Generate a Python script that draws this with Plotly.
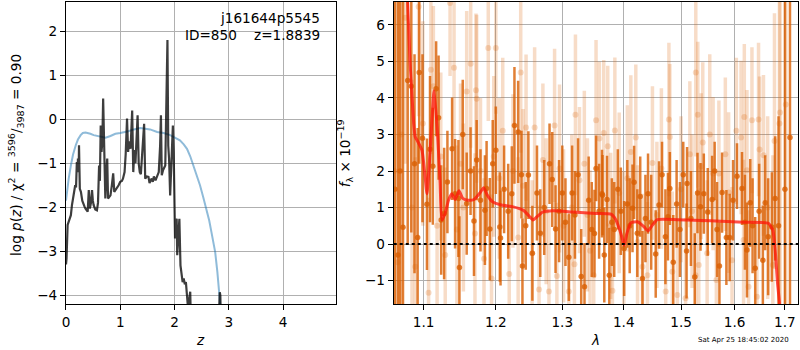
import plotly.graph_objects as go
import math

# ---------------- data: left panel (redshift fit) ----------------
z_chi = [0.000, 0.010, 0.030, 0.045, 0.070, 0.090, 0.110, 0.130, 0.150, 0.170, 0.185, 0.200,
         0.215, 0.220, 0.235, 0.240, 0.255, 0.275, 0.300, 0.320, 0.340, 0.360, 0.380, 0.400,
         0.420, 0.430, 0.440, 0.460, 0.480, 0.495, 0.510, 0.540, 0.570, 0.590, 0.610, 0.625,
         0.640, 0.655, 0.670, 0.685, 0.700, 0.710, 0.725, 0.745, 0.760, 0.775, 0.800, 0.820,
         0.845, 0.870, 0.890, 0.915, 0.940, 0.970, 1.000, 1.030, 1.050, 1.080, 1.100, 1.125,
         1.145, 1.165, 1.190, 1.205, 1.220, 1.240, 1.260, 1.280, 1.300, 1.320, 1.340, 1.360,
         1.380, 1.400, 1.440, 1.460, 1.490, 1.520, 1.540, 1.560, 1.580, 1.600, 1.620, 1.650,
         1.680, 1.710, 1.735, 1.750, 1.765, 1.790, 1.830, 1.850, 1.870, 1.885, 1.900, 1.920,
         1.945, 1.970, 1.985, 2.000, 2.010, 2.025, 2.040, 2.050, 2.070, 2.090, 2.110, 2.130,
         2.150, 2.170, 2.190, 2.210, 2.230, 2.250, 2.270, 2.290, 2.300, 2.400, 2.600, 2.800,
         2.835, 2.845, 2.870, 3.000]
logp_chi = [-3.30, -3.17, -2.40, -2.33, -2.25, -2.18, -1.95, -1.80, -1.70, -1.50, -1.55, -0.97,
            -1.20, -0.89, -1.10, -0.59, -1.58, -1.65, -1.85, -1.95, -1.98, -2.03, -2.06, -2.10,
            -1.61, -1.95, -2.03, -1.90, -1.61, -1.85, -1.95, -2.05, -2.07, -1.90, -1.05, -1.40,
            -0.14, -0.74, -0.50, 0.47, -0.60, -1.05, -1.80, -1.20, -0.89, -1.80, -1.75, -1.73,
            -1.50, -1.23, -1.65, -1.60, -1.58, -1.50, -1.42, -1.40, -1.35, -1.20, -0.80, 0.02,
            -0.74, -0.50, -0.67, -0.30, 0.20, -1.20, -0.70, -1.00, -0.50, 0.09, -1.00, -1.20,
            -1.25, -0.90, -0.10, -1.35, -1.30, -1.31, -1.45, -1.39, -1.35, -1.42, -1.30, -1.39,
            -1.28, -1.20, -0.60, 0.09, -1.27, -1.15, -1.05, 0.30, 1.80, -0.60, -0.89, -1.73,
            -0.90, -0.14, -0.74, -1.90, -2.71, -2.30, -2.26, -3.09, -2.50, -2.26, -3.32, -3.50,
            -3.70, -3.62, -3.75, -3.70, -4.00, -4.30, -4.10, -3.92, -4.50, -5.50, -6.00, -5.00,
            -3.93, -4.00, -5.50, -8.00]

z_prior = [0.00, 0.01, 0.05, 0.09, 0.13, 0.18, 0.22, 0.27, 0.31, 0.36, 0.40, 0.45, 0.51, 0.57,
           0.65, 0.73, 0.82, 0.91, 1.00, 1.06, 1.15, 1.25, 1.37, 1.43, 1.55, 1.68, 1.80, 1.92,
           2.02, 2.10, 2.17, 2.23, 2.29, 2.35, 2.41, 2.47, 2.53, 2.59, 2.64, 2.68, 2.72, 2.75,
           2.79, 2.83, 2.85, 2.87]
logp_prior = [-1.85, -1.73, -1.35, -1.05, -0.80, -0.59, -0.46, -0.36, -0.31, -0.30, -0.31, -0.33,
              -0.36, -0.38, -0.41, -0.42, -0.38, -0.33, -0.31, -0.30, -0.27, -0.23, -0.20, -0.21,
              -0.23, -0.29, -0.31, -0.36, -0.42, -0.48, -0.57, -0.67, -0.84, -1.05, -1.27, -1.50,
              -1.77, -2.03, -2.30, -2.56, -2.85, -3.02, -3.47, -3.92, -4.23, -4.60]

z_ticks = [0, 1, 2, 3, 4]
logp_ticks = [-4, -3, -2, -1, 0, 1, 2]

# ---------------- data: right panel (spectrum) ----------------
wave_a = [1.0625, 1.0665, 1.0693, 1.0730, 1.0791, 1.0838, 1.0880, 1.0921, 1.0942, 1.0985,
          1.1044, 1.1085, 1.1123, 1.1167, 1.1200, 1.1235, 1.1275, 1.1320, 1.1384, 1.1425,
          1.1471, 1.1485, 1.1531, 1.1586, 1.1640, 1.1688, 1.1726, 1.1780, 1.1843, 1.1867,
          1.1914, 1.1955, 1.2000, 1.2058, 1.2068, 1.2120, 1.2180, 1.2233, 1.2272, 1.2327,
          1.2376, 1.2391, 1.2440, 1.2480, 1.2540, 1.2610, 1.2660, 1.2720, 1.2802, 1.2844,
          1.2895, 1.2950, 1.3000, 1.3050, 1.3103, 1.3155, 1.3200, 1.3250, 1.3300, 1.3353,
          1.3420, 1.3470, 1.3514, 1.3540, 1.3590, 1.3637, 1.3646, 1.3675, 1.3720, 1.3758,
          1.3800, 1.3840, 1.3900, 1.3950, 1.4006, 1.4060, 1.4100, 1.4148, 1.4175, 1.4230,
          1.4280, 1.4319, 1.4370, 1.4415, 1.4470, 1.4549, 1.4607, 1.4660, 1.4720, 1.4765,
          1.4799, 1.4860, 1.4920, 1.4980, 1.5040, 1.5100, 1.5109, 1.5180, 1.5250, 1.5300,
          1.5356, 1.5417, 1.5490, 1.5572, 1.5620, 1.5665, 1.5710, 1.5760, 1.5842, 1.5905,
          1.5970, 1.6046, 1.6143, 1.6200, 1.6240, 1.6304, 1.6350, 1.6402, 1.6480, 1.6554,
          1.6600, 1.6660, 1.6734, 1.6801, 1.6870, 1.7000, 1.7104]
flux_a = [1.50, -0.30, 2.00, 0.46, 4.48, 4.32, 2.20, 0.18, 4.70, 2.90,
          1.09, 2.60, 2.13, 4.25, 3.46, 0.66, 0.84, 1.70, 2.61, 1.38,
          1.25, -0.64, 3.00, 1.11, 2.00, 0.63, 2.30, 1.20, 0.93, 1.52,
          0.41, 2.20, 2.57, 0.47, 0.17, 1.50, 0.90, 1.38, 3.25, 3.07,
          1.90, -0.60, 0.50, 1.89, -0.25, 1.40, 0.30, 1.00, 2.20, 1.77,
          0.41, 0.90, 1.40, 0.60, -0.36, 1.40, 0.80, 1.90, -0.89, -1.17,
          1.20, 0.40, 0.29, 2.07, 0.90, 1.38, 1.34, -0.30, 1.22, -0.85,
          0.60, 0.40, 1.50, 0.90, -0.12, 1.10, 0.50, 0.98, 1.69, 0.30,
          1.30, -0.94, 0.70, 1.38, 0.60, -0.27, 1.07, 1.90, 0.20, 0.75,
          1.52, -0.50, 1.10, 0.40, 1.90, -0.19, 1.66, 0.70, -0.90, 1.40,
          1.02, 1.38, 0.88, 1.22, 2.00, 0.40, -0.60, 1.41, 0.18, 0.18,
          1.20, 1.86, 1.52, 0.60, -0.16, 1.13, 0.50, -0.66, 0.90, -0.44,
          1.13, 0.20, 0.47, 1.25, 0.50, 1.50, 2.92]
err_a = [9.0, 8.0, 8.0, 7.0, 4.5, 4.0, 3.0, 3.0, 2.5, 2.3,
         1.8, 2.0, 1.6, 1.3, 1.7, 1.5, 1.8, 1.4, 1.4, 1.5,
         1.6, 1.4, 1.5, 1.4, 1.2, 1.5, 1.1, 1.4, 1.5, 1.3,
         1.4, 1.2, 1.2, 1.5, 1.3, 1.2, 1.3, 1.3, 1.6, 1.4,
         1.2, 1.3, 1.2, 1.2, 1.3, 1.3, 1.2, 1.3, 1.1, 1.3,
         1.2, 1.4, 1.3, 1.2, 1.2, 1.3, 1.2, 1.0, 1.3, 1.2,
         1.2, 1.3, 1.2, 0.9, 1.3, 1.2, 1.1, 1.3, 1.2, 1.3,
         1.2, 1.3, 1.1, 1.2, 1.3, 1.2, 1.3, 1.2, 1.0, 1.2,
         1.1, 1.3, 1.2, 1.1, 1.3, 1.2, 1.2, 0.9, 1.3, 1.2,
         1.0, 1.3, 1.2, 1.3, 0.9, 1.3, 1.0, 1.3, 1.2, 1.1,
         1.2, 1.1, 1.2, 1.2, 0.8, 1.3, 1.2, 1.1, 1.3, 1.2,
         1.1, 0.9, 1.0, 1.3, 1.3, 1.2, 1.3, 1.4, 1.3, 1.5,
         1.3, 1.6, 1.5, 1.7, 3.0, 8.0, 10.0]

wave_b = [1.0620, 1.0660, 1.0710, 1.0760, 1.0847, 1.0890, 1.0934, 1.0990, 1.1066, 1.1097,
          1.1130, 1.1180, 1.1230, 1.1290, 1.1356, 1.1411, 1.1450, 1.1500, 1.1540, 1.1586,
          1.1642, 1.1702, 1.1716, 1.1726, 1.1780, 1.1830, 1.1891, 1.1938, 1.1970, 1.2000,
          1.2050, 1.2100, 1.2195, 1.2250, 1.2327, 1.2365, 1.2400, 1.2445, 1.2536, 1.2574,
          1.2641, 1.2700, 1.2750, 1.2793, 1.2880, 1.2916, 1.2957, 1.3020, 1.3103, 1.3150,
          1.3192, 1.3208, 1.3272, 1.3350, 1.3400, 1.3442, 1.3502, 1.3540, 1.3594, 1.3666,
          1.3732, 1.3780, 1.3810, 1.3850, 1.3923, 1.4000, 1.4060, 1.4119, 1.4204, 1.4234,
          1.4319, 1.4405, 1.4492, 1.4570, 1.4649, 1.4725, 1.4782, 1.4799, 1.4843, 1.4933,
          1.5000, 1.5082, 1.5160, 1.5200, 1.5264, 1.5269, 1.5306, 1.5324, 1.5368, 1.5398,
          1.5479, 1.5528, 1.5591, 1.5652, 1.5700, 1.5822, 1.5885, 1.5950, 1.6033, 1.6124,
          1.6174, 1.6188, 1.6240, 1.6271, 1.6338, 1.6436, 1.6468, 1.6488, 1.6566, 1.6650,
          1.6754, 1.6787, 1.6888, 1.6899, 1.7018]
flux_b = [2.00, -0.50, 3.00, 6.20, 1.00, -0.62, 6.50, 3.30, -1.33, 4.77,
          4.32, 0.50, 2.40, -0.30, 6.60, 4.83, 0.40, 2.20, 1.00, 4.18,
          4.94, 0.29, 4.21, 3.98, 2.00, -0.40, 5.37, -0.94, 2.40, 5.37,
          1.80, 3.10, -0.82, 2.00, 0.18, 4.70, 1.60, 3.19, -0.25, 3.19,
          -1.24, 2.30, 0.90, -1.30, 3.25, -0.87, 2.07, 0.50, -1.30, 1.00,
          -0.55, 3.54, 1.75, 2.20, 0.80, -0.18, -0.85, 3.39, 2.89, 3.04,
          2.68, 0.50, -1.28, 3.11, 1.40, 0.00, 1.80, 2.52, 2.92, 0.06,
          -0.62, -0.85, 2.22, 0.80, 2.07, -1.30, 3.41, 2.93, -0.76, -1.39,
          1.50, -1.48, 2.46, 0.90, -0.85, 4.70, 3.54, -0.57, 2.13, 2.78,
          -0.25, 3.00, 1.93, -0.98, 1.93, 2.46, 1.41, -0.44, 3.10, 2.92,
          0.11, 3.48, 2.02, -1.17, 3.39, -1.44, 3.41, 2.59, 2.43, 1.00,
          -0.57, 2.82, 3.30, 3.60, 3.82]
err_b = [9.0, 8.0, 7.0, 4.0, 3.5, 3.0, 3.0, 2.8, 2.6, 2.3,
         2.2, 2.5, 2.3, 2.4, 2.0, 2.2, 2.3, 2.2, 2.3, 2.2,
         2.3, 2.2, 2.1, 2.3, 2.0, 2.2, 2.0, 2.3, 2.2, 1.8,
         2.2, 2.0, 2.2, 2.1, 2.2, 2.2, 2.1, 2.0, 2.0, 2.2,
         2.3, 2.1, 2.0, 2.2, 2.1, 2.0, 2.3, 2.1, 2.1, 2.0,
         2.0, 2.2, 2.0, 2.0, 2.1, 2.2, 2.0, 2.2, 2.1, 2.0,
         2.2, 2.0, 2.1, 2.0, 2.2, 2.0, 2.0, 2.1, 2.0, 2.1,
         2.0, 2.0, 2.1, 2.0, 2.2, 2.0, 2.1, 2.0, 2.2, 2.1,
         2.0, 2.2, 2.0, 2.1, 2.2, 2.3, 2.0, 2.1, 2.0, 2.2,
         2.0, 2.2, 2.1, 2.2, 2.0, 2.1, 2.2, 2.0, 2.0, 2.1,
         2.2, 2.0, 2.2, 2.1, 2.0, 2.0, 2.1, 2.0, 2.2, 2.5,
         3.0, 3.5, 5.0, 6.0, 8.0]

wave_model = [1.0740, 1.0791, 1.0821, 1.0869, 1.0890, 1.0925, 1.0978, 1.1017, 1.1044, 1.1087,
              1.1140, 1.1186, 1.1221, 1.1244, 1.1288, 1.1335, 1.1379, 1.1425, 1.1479, 1.1531,
              1.1610, 1.1688, 1.1772, 1.1826, 1.1877, 1.1953, 1.2082, 1.2253, 1.2401, 1.2490,
              1.2550, 1.2610, 1.2702, 1.2855, 1.3166, 1.3540, 1.3786, 1.3868, 1.3951, 1.4006,
              1.4052, 1.4119, 1.4234, 1.4347, 1.4415, 1.4492, 1.4578, 1.4933, 1.5540, 1.6174,
              1.6664, 1.6754, 1.6801, 1.6849, 1.6891, 1.6950]
flux_model = [9.00, 6.60, 5.00, 3.30, 2.93, 2.80, 2.57, 1.90, 1.38, 2.57,
              4.20, 3.02, 1.66, 0.66, 0.84, 1.20, 1.38, 1.22, 1.46, 1.25,
              1.20, 1.22, 1.40, 1.54, 1.34, 1.16, 1.07, 1.02, 0.93, 0.77,
              0.66, 0.75, 0.88, 0.91, 0.88, 0.84, 0.82, 0.66, 0.29, -0.03,
              0.29, 0.58, 0.61, 0.47, 0.36, 0.52, 0.67, 0.67, 0.64, 0.60,
              0.57, 0.38, -0.16, -1.07, -1.64, -3.00]

wave_ticks = [1.1, 1.2, 1.3, 1.4, 1.5, 1.6, 1.7]
flux_ticks = [-1, 0, 1, 2, 3, 4, 5, 6]

# ---------------- figure ----------------
W, H = 800, 350
FONT = "DejaVu Sans"
FS = 13.6

def px_x(p):
    return p / W

def px_y(p):
    return 1 - p / H

ydom = [px_y(304.3), px_y(1.7)]

fig = go.Figure()

fig.add_trace(go.Scatter(x=z_prior, y=logp_prior, mode="lines",
                         line=dict(color="rgba(31,119,180,0.5)", width=2),
                         xaxis="x", yaxis="y", hoverinfo="skip"))
fig.add_trace(go.Scatter(x=z_chi, y=logp_chi, mode="lines",
                         line=dict(color="rgba(0,0,0,0.76)", width=2.2),
                         xaxis="x", yaxis="y", hoverinfo="skip"))

fig.add_trace(go.Scatter(x=wave_b, y=flux_b, mode="markers",
                         marker=dict(color="rgba(217,95,2,0.22)", size=6),
                         error_y=dict(type="data", array=err_b, visible=True,
                                      color="rgba(217,95,2,0.22)", thickness=3.5, width=0),
                         xaxis="x2", yaxis="y2", hoverinfo="skip"))
fig.add_trace(go.Scatter(x=wave_a, y=flux_a, mode="markers",
                         marker=dict(color="rgba(217,95,2,0.8)", size=5.5),
                         error_y=dict(type="data", array=err_a, visible=True,
                                      color="rgba(217,95,2,0.8)", thickness=2.5, width=0),
                         xaxis="x2", yaxis="y2", hoverinfo="skip"))
fig.add_trace(go.Scatter(x=wave_model, y=flux_model, mode="lines",
                         line=dict(color="rgba(255,20,10,0.75)", width=3, shape="spline", smoothing=0.5),
                         xaxis="x2", yaxis="y2", hoverinfo="skip"))

axis_common = dict(showgrid=True, gridcolor="#b0b0b0", gridwidth=1,
                   showline=True, mirror=True, linecolor="black", linewidth=1,
                   ticks="outside", ticklen=5, tickwidth=1, tickcolor="black",
                   zeroline=False, tickfont=dict(family=FONT, size=FS, color="black"))

fig.update_layout(
    width=W, height=H,
    margin=dict(l=0, r=0, t=0, b=0),
    paper_bgcolor="white", plot_bgcolor="white",
    showlegend=False,
    font=dict(family=FONT, size=FS, color="black"),
    xaxis=dict(domain=[px_x(62.3), px_x(333.3)], range=[0, 4.97], anchor="y",
               tickvals=z_ticks, **axis_common),
    yaxis=dict(domain=ydom, range=[-4.205, 2.673], anchor="x",
               tickvals=logp_ticks, **axis_common),
    xaxis2=dict(domain=[px_x(391.7), px_x(798)], type="log",
                range=[math.log10(1.0611), math.log10(1.727)], anchor="y2",
                tickvals=wave_ticks, ticktext=[f"{v:.1f}" for v in wave_ticks], **axis_common),
    yaxis2=dict(domain=ydom, range=[-1.648, 6.636], anchor="x2",
                tickvals=flux_ticks, **axis_common),
)

# zero line on spectrum panel
fig.add_shape(type="line", xref="x2 domain", x0=0, x1=1, yref="y2", y0=0, y1=0,
              line=dict(color="black", width=2, dash="dot"), layer="above")

ann = []
ann.append(dict(text="j161644p5545", x=px_x(319), y=px_y(18.5), xref="paper", yref="paper",
                xanchor="right", yanchor="middle", showarrow=False, borderpad=0,
                font=dict(family=FONT, size=FS)))
ann.append(dict(text="ID=850\u00a0\u00a0\u00a0\u00a0z=1.8839", x=px_x(319), y=px_y(35),
                xref="paper", yref="paper", xanchor="right", yanchor="middle", showarrow=False,
                borderpad=0, font=dict(family=FONT, size=FS)))
ann.append(dict(text="<i>z</i>", x=px_x(197.5), y=px_y(340), xref="paper", yref="paper",
                xanchor="center", yanchor="middle", showarrow=False, font=dict(family=FONT, size=FS)))
ann.append(dict(text="<i>λ</i>", x=px_x(594.5), y=px_y(340), xref="paper", yref="paper",
                xanchor="center", yanchor="middle", showarrow=False, font=dict(family=FONT, size=FS)))
ann.append(dict(text="log <i>p</i>(<i>z</i>) / χ<sup>2</sup> = <sup>3596</sup>/<sub>3987</sub> = 0.90",
                x=px_x(12), y=px_y(155), xref="paper", yref="paper", textangle=-90,
                xanchor="center", yanchor="middle", showarrow=False, font=dict(family=FONT, size=FS)))
ann.append(dict(text="<i>f</i><sub>λ</sub> × 10<sup>−19</sup>",
                x=px_x(343), y=px_y(153), xref="paper", yref="paper", textangle=-90,
                xanchor="center", yanchor="middle", showarrow=False, font=dict(family=FONT, size=FS)))
ann.append(dict(text="Sat Apr 25 18:45:02 2020", x=px_x(743.5), y=px_y(339.5), xref="paper",
                yref="paper", xanchor="center", yanchor="middle", showarrow=False,
                font=dict(family=FONT, size=7)))
fig.update_layout(annotations=ann)

fig.write_html("out.html", config={"displayModeBar": False},
               post_script="document.body.style.margin='0';document.body.style.padding='0';"
                           "document.body.style.overflow='hidden';")
